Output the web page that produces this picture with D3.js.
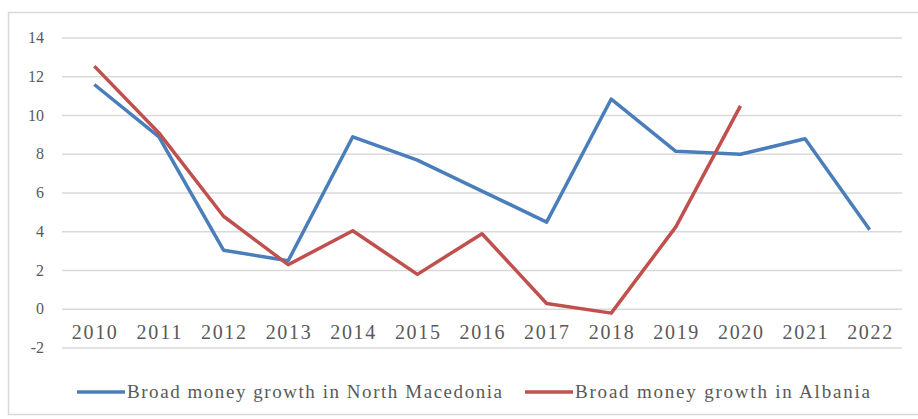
<!DOCTYPE html>
<html>
<head>
<meta charset="utf-8">
<script src="https://cdn.jsdelivr.net/npm/d3@7"></script>
<style>
  body { margin: 0; background: #fff; }
  svg text { font-family: "Liberation Serif", "DejaVu Serif", "Times New Roman", serif !important; fill: #595959; }
</style>
</head>
<body>
<svg id="chart" width="918" height="419"></svg>
<script>
const years = ["2010", "2011", "2012", "2013", "2014", "2015", "2016", "2017", "2018", "2019", "2020", "2021", "2022"];
const macedonia = [11.6, 8.9, 3.05, 2.5, 8.9, 7.7, 6.1, 4.5, 10.85, 8.15, 8.0, 8.8, 4.1];
const albania = [12.55, 9.1, 4.8, 2.3, 4.05, 1.8, 3.9, 0.3, -0.2, 4.25, 10.5];
const yTicks = [-2, 0, 2, 4, 6, 8, 10, 12, 14];
const seriesNames = ["Broad money growth in North Macedonia", "Broad money growth in Albania"];
const seriesColors = ["#4a7ebb", "#c0504d"];
const serif = "'Liberation Serif', 'DejaVu Serif', serif";

const svg = d3.select("#chart");

// chart frame
svg.append("rect")
    .attr("x", 8.5).attr("y", 12.5)
    .attr("width", 914).attr("height", 402)
    .attr("fill", "none")
    .attr("stroke", "#d9d9d9")
    .attr("stroke-width", 1.5);

const x = d3.scaleBand().domain(years).range([62, 902]);
const y = d3.scaleLinear().domain([-2, 14]).range([348, 38]);

// gridlines
svg.append("g")
    .selectAll("line")
    .data(yTicks)
    .join("line")
    .attr("x1", 62).attr("x2", 902)
    .attr("y1", d => y(d)).attr("y2", d => y(d))
    .attr("stroke", "#d9d9d9")
    .attr("stroke-width", 1.5);

// y labels
svg.append("g")
    .selectAll("text")
    .data(yTicks)
    .join("text")
    .attr("x", 44)
    .attr("y", d => y(d) + 5)
    .attr("text-anchor", "end")
    .attr("font-family", serif)
    .attr("font-size", 16)
    .text(d => d);

// x labels (axis sits at 0)
const xAxis = svg.append("g")
    .attr("transform", `translate(0,${y(0)})`)
    .call(d3.axisBottom(x).tickSize(0).tickPadding(16))
    .attr("font-family", serif);
xAxis.select(".domain").remove();
xAxis.selectAll("text")
    .attr("font-size", 20)
    .attr("fill", "#595959")
    .attr("textLength", 45)
    .attr("lengthAdjust", "spacing");

const line = d3.line()
    .x((d, i) => x(years[i]) + x.bandwidth() / 2)
    .y(d => y(d));

[macedonia, albania].forEach((vals, k) => {
    svg.append("path")
        .datum(vals)
        .attr("d", line)
        .attr("fill", "none")
        .attr("stroke", seriesColors[k])
        .attr("stroke-width", 3.5)
        .attr("stroke-linejoin", "round");
});

// legend
const legendX = [77, 525];
const legendW = [375, 295];
seriesNames.forEach((name, k) => {
    const g = svg.append("g").attr("transform", `translate(${legendX[k]},392)`);
    g.append("line")
        .attr("x1", 0).attr("x2", 48)
        .attr("stroke", seriesColors[k])
        .attr("stroke-width", 3.5);
    g.append("text")
        .attr("x", 50).attr("y", 6)
        .attr("font-family", serif)
        .attr("font-size", 19)
        .attr("textLength", legendW[k])
        .attr("lengthAdjust", "spacing")
        .text(name);
});
</script>
</body>
</html>
